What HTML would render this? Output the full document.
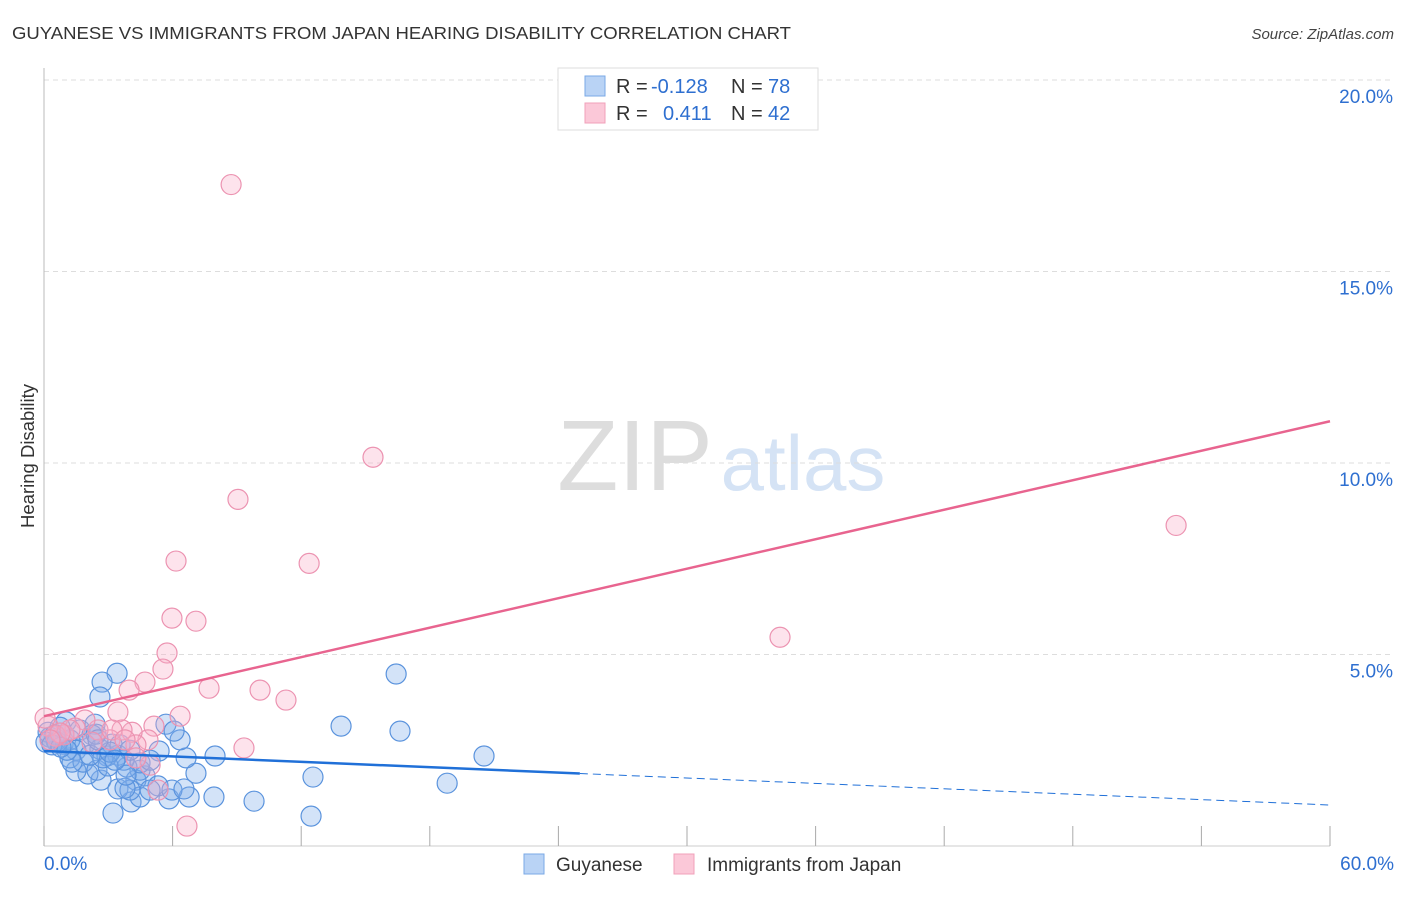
<!DOCTYPE html>
<html><head><meta charset="utf-8"><style>
body{margin:0;background:#fff;font-family:"Liberation Sans",sans-serif;}
svg text{font-family:"Liberation Sans",sans-serif;}
</style></head><body>
<svg id="chart" width="1406" height="892" xmlns="http://www.w3.org/2000/svg">
<text x="12" y="39" font-size="17.5" fill="#333" textLength="779" lengthAdjust="spacingAndGlyphs">GUYANESE VS IMMIGRANTS FROM JAPAN HEARING DISABILITY CORRELATION CHART</text>
<text x="1394" y="39" font-size="15" fill="#444" font-style="italic" text-anchor="end">Source: ZipAtlas.com</text>
<g>
<text x="635" y="490" font-size="100" fill="#ddd" font-family="Liberation Serif" text-anchor="middle">ZIP</text>
<text x="803" y="490" font-size="78" fill="#d5e3f5" text-anchor="middle">atlas</text>
</g>
<g id="grid"></g>
<g id="axes"></g>
<g id="marks"></g>
<text transform="translate(34,456) rotate(-90)" font-size="18.5" fill="#333" text-anchor="middle">Hearing Disability</text>
<g>
<rect x="558" y="68" width="260" height="62" fill="#fff" stroke="#ddd"/>
<rect x="585" y="76" width="20" height="20" fill="#b9d3f5" stroke="#7aa8e6"/>
<rect x="585" y="103" width="20" height="20" fill="#fbc8d8" stroke="#f0a0ba"/>
<text x="616" y="93" font-size="20" fill="#333">R =</text><text x="651" y="93" font-size="20" fill="#2e6fd0">-0.128</text>
<text x="731" y="93" font-size="20" fill="#333">N =</text><text x="768" y="93" font-size="20" fill="#2e6fd0">78</text>
<text x="616" y="120" font-size="20" fill="#333">R =</text><text x="663" y="120" font-size="20" fill="#2e6fd0">0.411</text>
<text x="731" y="120" font-size="20" fill="#333">N =</text><text x="768" y="120" font-size="20" fill="#2e6fd0">42</text>
</g>
<g>
<rect x="524" y="854" width="20" height="20" fill="#b9d3f5" stroke="#7aa8e6"/>
<text x="556" y="871" font-size="19" fill="#333">Guyanese</text>
<rect x="674" y="854" width="20" height="20" fill="#fbc8d8" stroke="#f0a0ba"/>
<text x="707" y="871" font-size="19" fill="#333">Immigrants from Japan</text>
</g>
</svg>
<script>
const yTicks=[5,10,15,20];
const yTickLabels=["5.0%","10.0%","15.0%","20.0%"];
const xTicks=[0,6,12,18,24,30,36,42,48,54,60];
const xEndLabels=["0.0%","60.0%"];
const blueX=[3.41,2.71,2.61,16.43,20.53,18.81,13.86,16.61,12.55,12.46,9.80,7.93,6.77,5.83,4.06,3.22,7.09,7.98,6.63,6.35,5.69,6.07,5.37,4.71,4.29,4.48,3.87,3.45,3.73,2.66,2.05,1.49,1.21,0.89,0.56,0.28,0.19,1.03,1.68,2.38,2.24,0.75,1.91,2.61,2.94,3.17,3.55,4.48,5.32,5.97,6.53,3.45,4.48,4.01,2.43,1.21,0.51,1.49,1.82,2.47,2.99,1.31,4.01,4.95,2.75,0.61,0.93,3.08,4.95,3.78,0.09,0.37,2.15,2.52,1.07,3.83,3.31,0.79];
const blueY=[4.51,4.28,3.89,4.49,2.35,1.64,3.13,3.00,1.80,0.78,1.17,1.28,1.28,1.23,1.15,0.86,1.90,2.35,2.30,2.77,3.18,3.00,2.48,1.83,1.72,1.98,2.06,2.37,2.24,1.72,1.88,1.96,2.30,2.66,2.74,2.84,2.97,3.24,3.03,3.18,2.90,3.10,2.66,2.53,2.35,2.66,2.64,2.17,1.57,1.46,1.49,1.49,1.28,2.50,2.92,2.77,2.90,2.50,2.19,1.98,2.09,2.19,1.46,1.46,2.30,2.71,2.90,2.45,2.24,1.51,2.71,2.64,2.37,2.77,2.50,1.85,2.24,2.58];
const pinkX=[8.73,15.35,9.05,6.16,12.37,5.97,7.09,5.74,5.55,4.71,3.97,7.70,10.08,11.29,6.35,3.45,34.34,52.82,6.67,9.33,5.13,4.85,4.11,3.64,3.08,2.52,1.91,1.45,0.93,0.56,0.19,0.05,4.29,4.95,5.32,4.29,2.24,1.21,0.75,3.17,3.78,0.28];
const pinkY=[17.27,10.15,9.05,7.44,7.38,5.95,5.87,5.04,4.62,4.28,4.07,4.12,4.07,3.81,3.39,3.50,5.45,8.37,0.52,2.56,3.13,2.77,2.97,3.03,2.77,3.03,3.29,3.08,2.90,2.87,3.13,3.34,2.64,2.11,1.46,2.30,2.71,3.03,2.95,3.03,2.77,2.77];
const blueTrend=[2.48,1.07];
const blueSolidEnd=25;
const pinkTrend=[3.39,11.09];

const NS="http://www.w3.org/2000/svg";
const X0=44,X1=1330,Y0=846,Y20=80;
function sx(v){return X0+(X1-X0)*v/60;}
function sy(v){return Y0-(Y0-Y20)*v/20;}
function el(tag,attrs,parent){const e=document.createElementNS(NS,tag);for(const k in attrs)e.setAttribute(k,attrs[k]);parent.appendChild(e);return e;}
const grid=document.getElementById('grid'),axes=document.getElementById('axes'),marks=document.getElementById('marks');
yTicks.forEach((t,i)=>{
 const g=el('line',{x1:X0,x2:1394,y1:sy(t),y2:sy(t),stroke:'#ddd','stroke-dasharray':'5,4'},grid);
 
 
 const tx=el('text',{x:1393,y:sy(t)+23,'font-size':19,fill:'#2e6fd0','text-anchor':'end'},axes);
 tx.textContent=yTickLabels[i];
 
 
});
const ya=el('line',{x1:X0,x2:X0,y1:68,y2:Y0,stroke:'#bbb'},axes);


const xa=el('line',{x1:X0,x2:X1,y1:Y0,y2:Y0,stroke:'#ccc'},axes);


xTicks.forEach(t=>{
 const l=el('line',{x1:sx(t),x2:sx(t),y1:826,y2:Y0,stroke:'#aaa'},axes);
 
 
});
[[0,'start',44],[60,'end',1394]].forEach((d,i)=>{
 const tx=el('text',{x:d[2],y:870,'font-size':19,fill:'#2e6fd0','text-anchor':d[1]},axes);
 tx.textContent=xEndLabels[i];
 
 
});
blueX.forEach((x,i)=>{
 const c=el('circle',{cx:sx(x),cy:sy(blueY[i]),r:10,fill:'rgba(130,175,235,0.35)',stroke:'#5a93dd','stroke-width':1.2},marks);
 
 
});
pinkX.forEach((x,i)=>{
 const c=el('circle',{cx:sx(x),cy:sy(pinkY[i]),r:10,fill:'rgba(248,175,200,0.35)',stroke:'#ec93b1','stroke-width':1.2},marks);
 
 
});
function ty(tr,x){return tr[0]+(tr[1]-tr[0])*x/60;}
const b1=el('line',{x1:sx(0),y1:sy(blueTrend[0]),x2:sx(blueSolidEnd),y2:sy(ty(blueTrend,blueSolidEnd)),stroke:'#2070d8','stroke-width':2.5},marks);


const b2=el('line',{x1:sx(blueSolidEnd),y1:sy(ty(blueTrend,blueSolidEnd)),x2:sx(60),y2:sy(blueTrend[1]),stroke:'#2070d8','stroke-width':1,'stroke-dasharray':'8,5'},marks);


const p1=el('line',{x1:sx(0),y1:sy(pinkTrend[0]),x2:sx(60),y2:sy(pinkTrend[1]),stroke:'#e8648f','stroke-width':2.5},marks);


</script>
</body></html>
